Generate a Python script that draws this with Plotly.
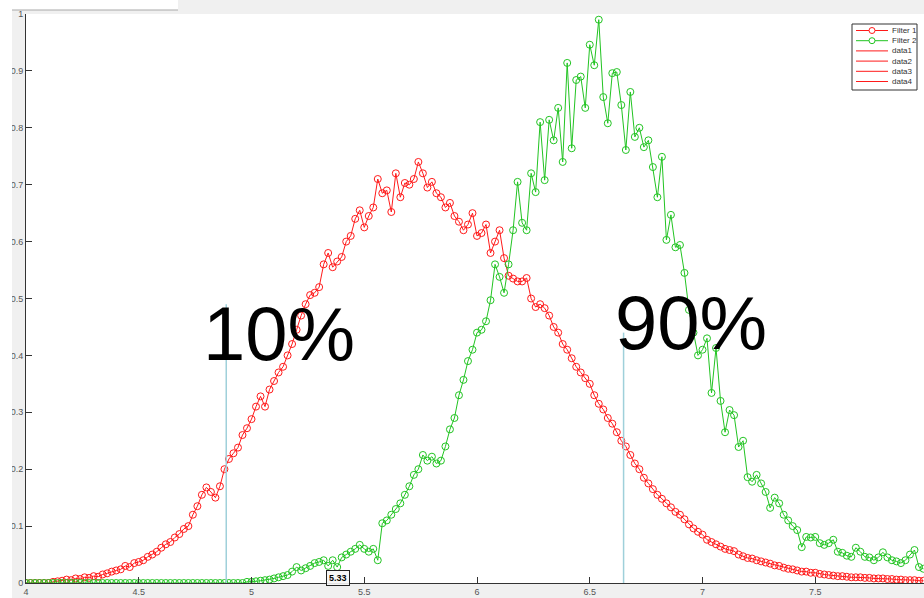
import numpy as np
import plotly.graph_objects as go

# ---------------- data ----------------
x_start = 4.0
x_step = 0.02

filter1 = [
    0, 0, 0, 0, 0, 0, 0.002, 0.003, 0.004, 0.006,
    0.005, 0.008, 0.007, 0.010, 0.009,
    0.012, 0.011, 0.015, 0.017, 0.020,
    0.022, 0.024, 0.030, 0.028, 0.035,
    0.037, 0.040, 0.046, 0.050, 0.055,
    0.062, 0.068, 0.072, 0.080, 0.086,
    0.095, 0.100, 0.120, 0.135, 0.155,
    0.168, 0.160, 0.150, 0.170, 0.200,
    0.218, 0.228, 0.238, 0.260, 0.272,
    0.288, 0.310, 0.328, 0.310, 0.340,
    0.355, 0.370, 0.380, 0.400, 0.420,
    0.445, 0.470, 0.490, 0.506, 0.510,
    0.520, 0.560, 0.580, 0.555, 0.565,
    0.573, 0.600, 0.610, 0.640, 0.655,
    0.625, 0.645, 0.660, 0.710, 0.685,
    0.690, 0.652, 0.720, 0.678, 0.703,
    0.700, 0.710, 0.740, 0.720, 0.695,
    0.705, 0.685, 0.678, 0.660, 0.668,
    0.645, 0.635, 0.620, 0.630, 0.650,
    0.610, 0.615, 0.630, 0.580, 0.600,
    0.620, 0.571, 0.540, 0.535, 0.530,
    0.530, 0.536, 0.500, 0.485, 0.490,
    0.483, 0.470, 0.450, 0.440, 0.420,
    0.410, 0.395, 0.380, 0.370, 0.360,
    0.350, 0.330, 0.315, 0.305, 0.290,
    0.280, 0.265, 0.250, 0.240, 0.225,
    0.210, 0.200, 0.185, 0.175, 0.165,
    0.155, 0.148, 0.140, 0.133, 0.125,
    0.120, 0.112, 0.103, 0.096, 0.090,
    0.085, 0.076, 0.072, 0.068, 0.064,
    0.060, 0.058, 0.056, 0.050, 0.047,
    0.044, 0.043, 0.040, 0.038, 0.036,
    0.034, 0.031, 0.030, 0.027, 0.025,
    0.024, 0.022, 0.020, 0.020, 0.018,
    0.018, 0.016, 0.015, 0.014, 0.013,
    0.012, 0.012, 0.011, 0.010, 0.010,
    0.010, 0.009, 0.009, 0.008, 0.008,
    0.008, 0.007, 0.007, 0.006, 0.006,
    0.005, 0.005, 0.005, 0.004, 0.004,
]

filter2 = [
    0, 0, 0, 0, 0, 0, 0, 0, 0, 0,
    0, 0, 0, 0, 0, 0, 0, 0, 0, 0,
    0, 0, 0, 0, 0, 0, 0, 0, 0, 0,
    0, 0, 0, 0, 0, 0, 0, 0, 0, 0,
    0, 0, 0, 0, 0, 0, 0, 0, 0, 0.002,
    0.002, 0.003, 0.004, 0.005, 0.006,
    0.008, 0.010, 0.012, 0.014, 0.020,
    0.028, 0.022, 0.026, 0.030, 0.035,
    0.037, 0.040, 0.030, 0.040, 0.028,
    0.045, 0.050, 0.055, 0.060, 0.067,
    0.060, 0.055, 0.060, 0.040, 0.105,
    0.110, 0.120, 0.130, 0.140, 0.155,
    0.170, 0.190, 0.200, 0.225, 0.215,
    0.222, 0.210, 0.215, 0.240, 0.270,
    0.290, 0.330, 0.357, 0.390, 0.410,
    0.440, 0.445, 0.460, 0.497, 0.560,
    0.538, 0.510, 0.560, 0.620, 0.705,
    0.633, 0.620, 0.720, 0.687, 0.810,
    0.708, 0.814, 0.778, 0.835, 0.740,
    0.914, 0.764, 0.884, 0.890, 0.835,
    0.946, 0.910, 0.990, 0.854, 0.808,
    0.896, 0.898, 0.840, 0.761, 0.863,
    0.784, 0.800, 0.766, 0.778, 0.731,
    0.678, 0.749, 0.603, 0.647, 0.590,
    0.594, 0.545, 0.480, 0.440, 0.400,
    0.410, 0.430, 0.334, 0.413, 0.320,
    0.265, 0.304, 0.295, 0.239, 0.250,
    0.186, 0.178, 0.190, 0.175, 0.160,
    0.132, 0.150, 0.140, 0.120, 0.110,
    0.100, 0.093, 0.063, 0.081, 0.080,
    0.081, 0.070, 0.067, 0.070, 0.076,
    0.055, 0.053, 0.048, 0.046, 0.062,
    0.055, 0.046, 0.045, 0.040, 0.045,
    0.054, 0.045, 0.040, 0.038, 0.035,
    0.040, 0.050, 0.058, 0.028, 0.025,
]

x_vals = np.round(x_start + x_step * np.arange(len(filter1)), 3)

# percentile markers (x position, line top)
p10_x, p10_top = 4.888, 0.49
p90_x, p90_top = 6.650, 0.44
marker_labels = ["10%", "90%"]
datatip_x, datatip_label = 5.385, "5.33"

legend_names = ["Filter 1", "Filter 2", "data1", "data2", "data3", "data4"]
legend_has_marker = [True, True, False, False, False, False]

x_ticks = [4, 4.5, 5, 5.5, 6, 6.5, 7, 7.5]
x_ticktext = ["4", "4.5", "5", "5.5", "6", "6.5", "7", "7.5"]
y_ticks = [0, 0.1, 0.2, 0.3, 0.4, 0.5, 0.6, 0.7, 0.8, 0.9, 1.0]
y_ticktext = ["0", "0.1", "0.2", "0.3", "0.4", "0.5", "0.6", "0.7", "0.8", "0.9", "1"]

RED = "#ff1a1a"
GREEN = "#22c422"
BLUE = "#9fd0da"
FONT = "Liberation Sans, Arial, sans-serif"
legend_colors = [RED, GREEN, RED, RED, RED, RED]

# ---------------- figure ----------------
W, H = 924, 598
ML, MR, MT, MB = 26, 0, 14, 15
plot_w = W - ML - MR
plot_h = H - MT - MB
x_end = 4 + plot_w / 225.5


def px_to_paper_x(px):
    return (px - ML) / plot_w


def px_to_paper_y(py):
    return (H - MB - py) / plot_h


fig = go.Figure()

fig.add_trace(go.Scatter(
    x=x_vals, y=filter1, mode="lines+markers", name="Filter 1",
    line=dict(color=RED, width=1),
    marker=dict(symbol="circle-open", size=7, color=RED, line=dict(width=1)),
))
fig.add_trace(go.Scatter(
    x=x_vals, y=filter2, mode="lines+markers", name="Filter 2",
    line=dict(color=GREEN, width=1),
    marker=dict(symbol="circle-open", size=7, color=GREEN, line=dict(width=1)),
))
fig.add_trace(go.Scatter(x=[p10_x, p10_x], y=[0, p10_top], mode="lines",
                         line=dict(color=BLUE, width=1.5), hoverinfo="skip"))
fig.add_trace(go.Scatter(x=[p90_x, p90_x], y=[0, p90_top], mode="lines",
                         line=dict(color=BLUE, width=1.5), hoverinfo="skip"))

fig.add_annotation(x=5.122, y=0.438, text=marker_labels[0], showarrow=False,
                   font=dict(family=FONT, size=76, color="black"))
fig.add_annotation(x=6.949, y=0.457, text=marker_labels[1], showarrow=False,
                   font=dict(family=FONT, size=76, color="black"))
fig.add_annotation(x=datatip_x, y=0.008, text="<b>" + datatip_label + "</b>", showarrow=False,
                   font=dict(family=FONT, size=9, color="black"),
                   bordercolor="#222", borderwidth=1, borderpad=2, bgcolor="rgba(245,245,245,0.9)")

shapes = [
    # white strip at far left (clips the left part of tick labels like the source)
    dict(type="rect", xref="paper", yref="paper", layer="above",
         x0=px_to_paper_x(-2), x1=px_to_paper_x(12), y0=px_to_paper_y(H + 2), y1=px_to_paper_y(-2),
         fillcolor="white", line=dict(width=0)),
    # white top-left corner
    dict(type="rect", xref="paper", yref="paper", layer="below",
         x0=px_to_paper_x(12), x1=px_to_paper_x(178), y0=px_to_paper_y(10), y1=px_to_paper_y(-2),
         fillcolor="white", line=dict(width=0)),
    dict(type="line", xref="paper", yref="paper", layer="below",
         x0=px_to_paper_x(12), x1=px_to_paper_x(178), y0=px_to_paper_y(10), y1=px_to_paper_y(10),
         line=dict(color="#a8a8a8", width=1)),
    # legend box
    dict(type="rect", xref="paper", yref="paper", layer="above",
         x0=px_to_paper_x(852), x1=px_to_paper_x(917), y0=px_to_paper_y(90), y1=px_to_paper_y(24),
         fillcolor="white", line=dict(color="#333", width=1)),
]

# manual compact legend (MATLAB style)
for i, (nm, col, mk) in enumerate(zip(legend_names, legend_colors, legend_has_marker)):
    yc = 30.5 + i * 10.2
    shapes.append(dict(type="line", xref="paper", yref="paper", layer="above",
                       x0=px_to_paper_x(856), x1=px_to_paper_x(888),
                       y0=px_to_paper_y(yc), y1=px_to_paper_y(yc),
                       line=dict(color=col, width=1)))
    if mk:
        shapes.append(dict(type="circle", xref="paper", yref="paper", layer="above",
                           x0=px_to_paper_x(869), x1=px_to_paper_x(875),
                           y0=px_to_paper_y(yc + 3), y1=px_to_paper_y(yc - 3),
                           fillcolor="white", line=dict(color=col, width=1)))
    fig.add_annotation(xref="paper", yref="paper", x=px_to_paper_x(890), y=px_to_paper_y(yc),
                       xanchor="left", yanchor="middle", text=nm, showarrow=False,
                       font=dict(family=FONT, size=8, color="#333"))

fig.update_layout(
    width=W, height=H,
    margin=dict(l=ML, r=MR, t=MT, b=MB, pad=0),
    paper_bgcolor="#f0f0f0",
    plot_bgcolor="white",
    font=dict(family=FONT, size=9, color="#555"),
    shapes=shapes,
    showlegend=False,
    xaxis=dict(
        range=[4, x_end], tickmode="array", tickvals=x_ticks, ticktext=x_ticktext,
        showgrid=False, zeroline=False, showline=True, linecolor="#333", linewidth=1,
        ticks="inside", ticklen=6, tickcolor="#333", tickfont=dict(size=9, color="#555"),
    ),
    yaxis=dict(
        range=[0, 1], tickmode="array", tickvals=y_ticks, ticktext=y_ticktext,
        showgrid=False, zeroline=False, showline=True, linecolor="#333", linewidth=1,
        ticks="inside", ticklen=6, tickcolor="#333", tickfont=dict(size=9, color="#555"),
    ),
)

fig.write_html("out.html")
